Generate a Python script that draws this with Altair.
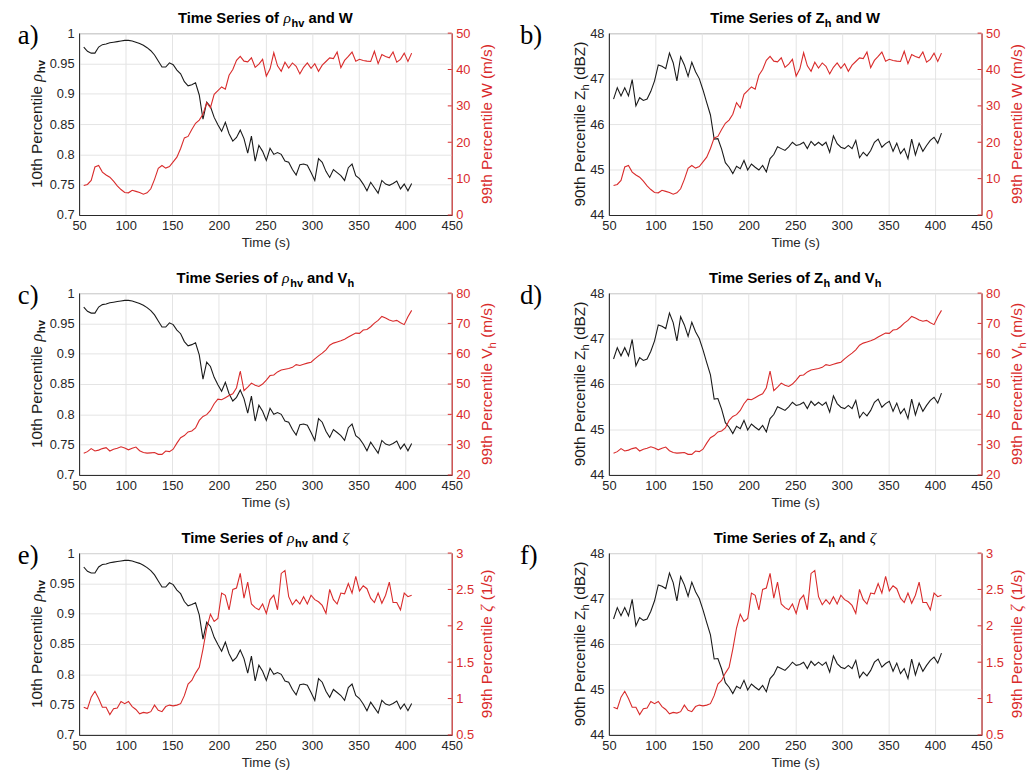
import altair as alt
import pandas as pd

# ---------------- data ----------------
time_s = [55, 59, 63, 67, 71, 75, 79, 83, 87, 91,
          95, 99, 103, 107, 111, 115, 119, 123, 127, 131,
          135, 139, 143, 147, 151, 155, 159, 163, 167, 171,
          175, 179, 183, 187, 191, 195, 199, 203, 207, 211,
          215, 219, 223, 227, 231, 235, 239, 243, 247, 251,
          255, 259, 263, 267, 271, 275, 279, 283, 287, 291,
          295, 299, 303, 307, 311, 315, 319, 323, 327, 331,
          335, 339, 343, 347, 351, 355, 359, 363, 367, 371,
          375, 379, 383, 387, 391, 395, 399, 403, 407]

rho_hv = [.977, .970, .967, .967, .977, .981, .982, .984, .985, .986,
          .987, .988, .988, .987, .985, .983, .980, .976, .971, .964,
          .954, .944, .944, .951, .948, .939, .933, .920, .913, .915,
          .918, .898, .858, .886, .879, .861, .849, .838, .853, .834,
          .822, .828, .840, .826, .802, .830, .789, .815, .805, .790,
          .810, .800, .803, .800, .789, .787, .775, .766, .783, .784,
          .782, .770, .757, .793, .787, .772, .762, .775, .770, .765,
          .757, .778, .784, .765, .760, .751, .740, .754, .745, .736,
          .757, .751, .749, .752, .756, .743, .751, .740, .752]

zh = [46.55, 46.80, 46.62, 46.80, 46.62, 46.98, 46.40, 46.58, 46.52, 46.55,
      46.72, 46.95, 47.30, 47.27, 47.22, 47.56, 47.35, 46.95, 47.48, 47.30,
      47.05, 47.36, 47.15, 47.00, 46.75, 46.47, 46.20, 45.67, 45.68, 45.45,
      45.15, 45.05, 44.91, 45.07, 45.02, 45.20, 44.99, 45.12, 45.05, 44.99,
      45.09, 44.95, 45.24, 45.33, 45.50, 45.46, 45.42, 45.50, 45.60, 45.53,
      45.55, 45.60, 45.46, 45.62, 45.53, 45.60, 45.53, 45.60, 45.38, 45.74,
      45.57, 45.49, 45.46, 45.53, 45.46, 45.64, 45.26, 45.38, 45.30, 45.42,
      45.60, 45.67, 45.49, 45.57, 45.62, 45.40, 45.58, 45.35, 45.46, 45.24,
      45.67, 45.32, 45.58, 45.40, 45.53, 45.64, 45.71, 45.58, 45.80]

w = [8.1, 8.4, 9.5, 13.2, 13.6, 11.8, 11.0, 10.4, 9.3, 8.0,
     7.0, 6.2, 6.1, 6.8, 6.5, 6.2, 5.7, 6.1, 7.2, 9.8,
     12.8, 13.6, 12.9, 13.3, 14.6, 15.9, 18.3, 21.2, 21.6, 23.5,
     25.2, 26.1, 27.7, 30.9, 29.5, 33.2, 34.2, 35.2, 34.6, 38.4,
     40.0, 42.5, 43.6, 42.3, 42.1, 43.2, 40.6, 41.5, 42.8, 38.2,
     40.2, 44.6, 41.0, 39.5, 42.0, 40.4, 41.8, 40.9, 38.8, 40.6,
     41.8, 40.3, 41.6, 39.5, 41.2, 42.2, 43.2, 43.0, 44.8, 40.5,
     42.5, 43.6, 44.8, 42.3, 42.8, 42.5, 42.3, 42.2, 45.0, 41.6,
     44.1, 43.6, 43.2, 44.8, 42.0, 42.8, 44.5, 42.2, 44.5]

vh = [27.2, 27.7, 28.7, 27.9, 28.2, 28.7, 29.0, 27.9, 28.5, 28.8,
      29.3, 28.9, 28.3, 28.8, 29.2, 28.0, 27.4, 27.2, 27.3, 27.4,
      26.8, 26.8, 27.9, 27.7, 28.5, 30.5, 32.3, 33.0, 34.2, 34.5,
      35.5, 38.0, 39.3, 39.9, 41.3, 43.5, 45.0, 44.8, 45.5, 46.2,
      46.8, 48.8, 54.3, 47.8, 49.0, 50.3, 49.6, 49.2, 50.0, 51.3,
      52.8, 53.0, 54.0, 54.6, 54.9, 55.1, 55.5, 56.4, 56.1, 56.5,
      56.9, 57.2, 58.3, 59.3, 60.2, 61.3, 62.8, 63.5, 63.9, 64.3,
      64.8, 65.5, 66.2, 66.8, 66.7, 67.8, 68.0, 68.9, 70.1, 71.0,
      72.3, 71.8, 71.1, 70.7, 71.0, 70.2, 69.6, 72.2, 74.3]

zeta = [0.88, 0.86, 1.02, 1.10, 1.00, 0.88, 0.88, 0.78, 0.86, 0.87,
        0.96, 0.93, 0.96, 0.89, 0.85, 0.79, 0.81, 0.80, 0.82, 0.91,
        0.84, 0.82, 0.89, 0.91, 0.90, 0.91, 0.93, 1.04, 1.20, 1.25,
        1.35, 1.43, 1.68, 1.97, 2.16, 2.06, 2.10, 2.45, 2.42, 2.22,
        2.50, 2.52, 2.72, 2.38, 2.60, 2.30, 2.25, 2.22, 2.30, 2.17,
        2.36, 2.42, 2.22, 2.72, 2.76, 2.40, 2.29, 2.36, 2.30, 2.40,
        2.30, 2.42, 2.36, 2.33, 2.28, 2.17, 2.50, 2.36, 2.30, 2.45,
        2.44, 2.58, 2.45, 2.68, 2.48, 2.55, 2.51, 2.38, 2.32, 2.45,
        2.31, 2.42, 2.60, 2.32, 2.32, 2.22, 2.45, 2.40, 2.42]

x_ticks = [50, 100, 150, 200, 250, 300, 350, 400, 450]
rho_ticks = [0.7, 0.75, 0.8, 0.85, 0.9, 0.95, 1.0]
zh_ticks = [44, 45, 46, 47, 48]
w_ticks = [0, 10, 20, 30, 40, 50]
vh_ticks = [20, 30, 40, 50, 60, 70, 80]
zeta_ticks = [0.5, 1.0, 1.5, 2.0, 2.5, 3.0]

RHO, ZETA = "\u03c1", "\u03b6"
# text pieces: (text, kind) ; kind: main / sub / greek
panel_titles = [
    [("Time Series of ", "main"), (RHO, "greek"), ("hv", "sub"), (" and W", "main")],
    [("Time Series of Z", "main"), ("h", "sub"), (" and W", "main")],
    [("Time Series of ", "main"), (RHO, "greek"), ("hv", "sub"), (" and V", "main"), ("h", "sub")],
    [("Time Series of Z", "main"), ("h", "sub"), (" and V", "main"), ("h", "sub")],
    [("Time Series of ", "main"), (RHO, "greek"), ("hv", "sub"), (" and ", "main"), (ZETA, "greek")],
    [("Time Series of Z", "main"), ("h", "sub"), (" and ", "main"), (ZETA, "greek")],
]
panel_letters = ["a)", "b)", "c)", "d)", "e)", "f)"]
left_titles = {
    "rho": [("10th Percentile ", "main"), (RHO, "greek"), ("hv", "subb")],
    "zh": [("90th Percentile Z", "main"), ("h", "sub"), (" (dBZ)", "main")],
}
right_titles = {
    "w": [("99th Percentile W (m/s)", "main")],
    "vh": [("99th Percentile V", "main"), ("h", "sub"), (" (m/s)", "main")],
    "zeta": [("99th Percentile ", "main"), (ZETA, "greek"), (" (1/s)", "main")],
}

# ---------------- style ----------------
FONT = "Liberation Sans"
SERIF = "Liberation Serif"
BLACK = "#1a1a1a"
AXIS_BLACK = "#262626"
RED = "#d92b2b"
GRID = "#e4e4e4"
W, H = 377, 184

# approximate glyph advance widths (1/1000 em) for layout of rich text
REG_W = {' ': 278, '0': 556, '1': 556, '9': 556, 't': 278, 'h': 556, 'P': 667,
         'e': 556, 'r': 333, 'c': 500, 'n': 556, 'i': 222, 'l': 222, '(': 333,
         ')': 333, 'd': 556, 'B': 667, 'Z': 611, 'W': 944, 'm': 833, '/': 278,
         's': 500, 'V': 667, 'v': 500}
BOLD_W = {' ': 278, 'T': 611, 'i': 278, 'm': 889, 'e': 556, 'S': 667, 'r': 389,
          's': 556, 'o': 611, 'f': 333, 'a': 556, 'n': 611, 'd': 611, 'W': 944,
          'Z': 611, 'V': 667, 'h': 611, 'v': 556}
GREEK_W = {RHO: 520, ZETA: 450}

one = pd.DataFrame({"k": [0]})


def text_width(txt, table, size):
    return sum(table.get(ch, 556) for ch in txt) * size / 1000.0


def style_for(kind, bold_main, size_main):
    if kind == "main":
        return dict(font=FONT, size=size_main,
                    weight="bold" if bold_main else "normal", style="normal",
                    table=BOLD_W if bold_main else REG_W, shift=0)
    if kind == "sub":
        return dict(font=FONT, size=size_main * 0.74,
                    weight="bold" if bold_main else "normal", style="normal",
                    table=BOLD_W if bold_main else REG_W, shift=4)
    if kind == "subb":
        return dict(font=FONT, size=size_main * 0.74, weight="bold",
                    style="normal", table=BOLD_W, shift=4)
    return dict(font=SERIF, size=size_main * 1.05, weight="normal",
                style="italic", table=GREEK_W, shift=0)


def rich_text(pieces, bold_main, size_main, color, anchor_x, anchor_y,
              vertical=False):
    layers = []
    sts = [style_for(k, bold_main, size_main) for _, k in pieces]
    widths = [text_width(t, s["table"], s["size"]) for (t, _), s in zip(pieces, sts)]
    total = sum(widths)
    pos = (anchor_x - total / 2) if not vertical else (anchor_y + total / 2)
    for (t, _), s, wd in zip(pieces, sts, widths):
        # leading spaces would be collapsed by SVG: skip them explicitly
        stripped = t.lstrip(" ")
        lead = text_width(t[:len(t) - len(stripped)], s["table"], s["size"])
        shown = stripped.rstrip(" ")
        mk = dict(text=shown, font=s["font"], fontSize=s["size"],
                  fontWeight=s["weight"], fontStyle=s["style"], color=color,
                  align="left", baseline="alphabetic")
        if vertical:
            mk["angle"] = 270
            enc = dict(x=alt.value(anchor_x + s["shift"]),
                       y=alt.value(pos - lead))
            pos -= wd
        else:
            enc = dict(x=alt.value(pos + lead),
                       y=alt.value(anchor_y + s["shift"]))
            pos += wd
        layers.append(alt.Chart(one).mark_text(**mk).encode(**enc))
    return layers


df = pd.DataFrame({"t": time_s, "rho": rho_hv, "zh": zh, "w": w,
                   "vh": vh, "zeta": zeta})

black_specs = {"rho": ([0.7, 1.0], rho_ticks, -38),
               "zh": ([44, 48], zh_ticks, -24)}
red_specs = {"w": ([0, 50], w_ticks),
             "vh": ([20, 80], vh_ticks),
             "zeta": ([0.5, 3.0], zeta_ticks)}


def panel(i, bcol, rcol):
    bdom, bvals, ltx = black_specs[bcol]
    rdom, rvals = red_specs[rcol]
    x = alt.X("t:Q",
              scale=alt.Scale(domain=[50, 450], nice=False, zero=False),
              axis=alt.Axis(values=x_ticks, title="Time (s)", grid=True,
                            gridColor=GRID, ticks=False, labelPadding=5,
                            labelFontSize=13, labelColor=AXIS_BLACK,
                            titleFontSize=13.5, titleFontWeight="normal",
                            titleColor=AXIS_BLACK, titlePadding=3,
                            domainColor=AXIS_BLACK, labelFont=FONT,
                            titleFont=FONT, labelFlush=False))
    base = alt.Chart(df)
    black = base.mark_line(color=BLACK, strokeWidth=1.1).encode(
        x=x,
        y=alt.Y(f"{bcol}:Q",
                scale=alt.Scale(domain=bdom, nice=False, zero=False),
                axis=alt.Axis(orient="left", values=bvals, format=".3~g",
                              title=None, grid=True, gridColor=GRID,
                              ticks=False, labelPadding=5, labelFontSize=13,
                              labelColor=AXIS_BLACK, domainColor=AXIS_BLACK,
                              labelFont=FONT)))
    red = base.mark_line(color=RED, strokeWidth=1.1).encode(
        x=x,
        y=alt.Y(f"{rcol}:Q",
                scale=alt.Scale(domain=rdom, nice=False, zero=False),
                axis=alt.Axis(orient="right", values=rvals, format=".3~g",
                              title=None, grid=False, ticks=False,
                              labelPadding=4, labelFontSize=13,
                              labelColor=RED, domainColor=RED,
                              labelFont=FONT)))
    # inward tick marks on the right (red) axis, as in MATLAB
    red_ticks = alt.Chart(pd.DataFrame({"v": rvals})).mark_rule(
        color=RED, strokeWidth=1).encode(
        y=alt.Y("v:Q", scale=alt.Scale(domain=rdom, nice=False, zero=False),
                axis=None),
        x=alt.value(W - 4), x2=alt.value(W))
    layers = [black, red, red_ticks]
    layers += rich_text(panel_titles[i], True, 15, "black", W / 2, -10)
    layers += rich_text(left_titles[bcol], False, 15.5, BLACK, ltx, H / 2,
                        vertical=True)
    layers += rich_text(right_titles[rcol], False, 15.5, RED, W + 41, H / 2,
                        vertical=True)
    letter_dx = -62 if i % 2 == 0 else -90
    layers.append(alt.Chart(one).mark_text(
        text=panel_letters[i], align="left", baseline="middle", font=SERIF,
        fontSize=27, color="black").encode(
        x=alt.value(letter_dx), y=alt.value(3)))
    return alt.layer(*layers).resolve_scale(y="independent").properties(
        width=W, height=H)


combos = [("rho", "w"), ("zh", "w"), ("rho", "vh"), ("zh", "vh"),
          ("rho", "zeta"), ("zh", "zeta")]
panels = [panel(i, b, r) for i, (b, r) in enumerate(combos)]

chart = alt.concat(*panels, columns=2,
                   spacing={"row": 20, "column": 20}).properties(
    padding={"left": 17, "top": 5, "right": 0, "bottom": 0},
    background="white"
).configure_view(stroke="#333333", strokeWidth=1)

chart.save("out.html", embed_options={"renderer": "svg", "actions": False})
